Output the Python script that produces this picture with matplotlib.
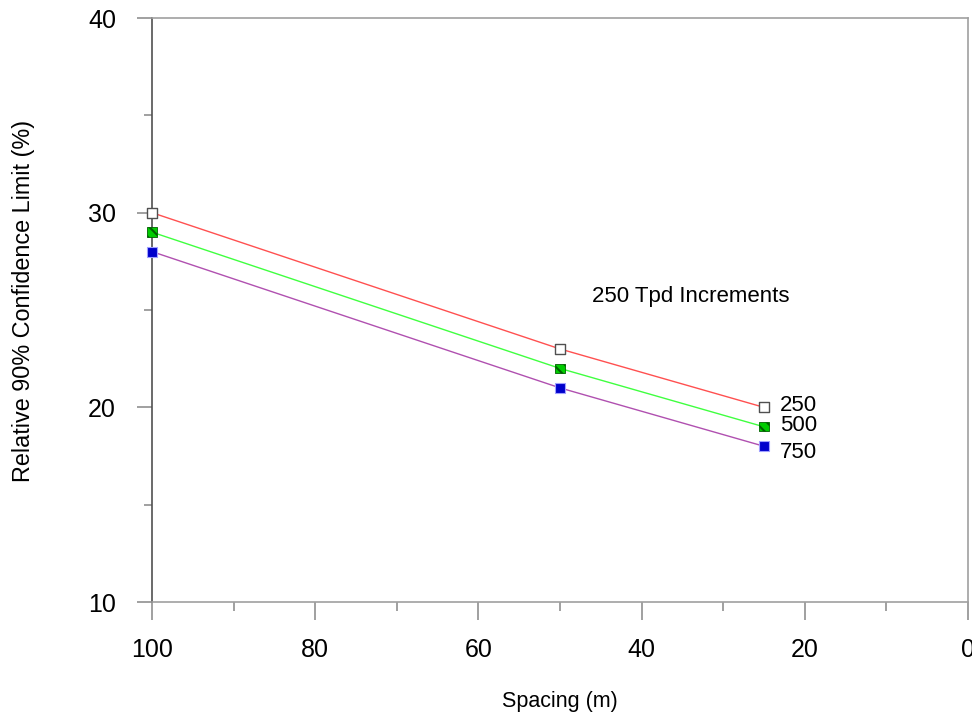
import matplotlib
matplotlib.use("Agg")
import matplotlib.pyplot as plt
from matplotlib.ticker import MultipleLocator

plt.rcParams['font.family'] = ['Liberation Sans', 'DejaVu Sans']
plt.rcParams['hatch.color'] = '#006000'
plt.rcParams['hatch.linewidth'] = 1.5

spacing = [100, 50, 25]
series_names = ["250", "500", "750"]
values_250 = [30, 23, 20]
values_500 = [29, 22, 19]
values_750 = [28, 21, 18]
annotation = "250 Tpd Increments"

fig = plt.figure(figsize=(9.72, 7.15), dpi=100)
ax = fig.add_axes([0.1564, 0.158, 0.8395, 0.8168])

ax.plot(spacing, values_250, color='#ff5050', lw=1.0, zorder=2)
ax.plot(spacing, values_500, color='#40ff40', lw=1.0, zorder=2)
ax.plot(spacing, values_750, color='#b050b0', lw=1.0, zorder=2)

ax.scatter(spacing, values_250, marker='s', s=45, facecolor='white', edgecolor='#505050', linewidths=1.0, zorder=3, clip_on=False)
ax.scatter(spacing, values_500, marker='s', s=45, facecolor='#00cc00', edgecolor='#006000', hatch='\\\\\\', linewidths=0.6, zorder=3, clip_on=False)
ax.scatter(spacing, values_750, marker='s', s=45, facecolor='#0000cc', edgecolor='#a0a0ff', linewidths=0.8, zorder=3, clip_on=False)

ax.set_xlim(100, 0)
ax.set_ylim(10, 40)
ax.xaxis.set_major_locator(MultipleLocator(20))
ax.xaxis.set_minor_locator(MultipleLocator(10))
ax.yaxis.set_major_locator(MultipleLocator(10))
ax.yaxis.set_minor_locator(MultipleLocator(5))

for s in ['top', 'right', 'bottom']:
    ax.spines[s].set_color('#a0a0a0')
    ax.spines[s].set_linewidth(1.2)
ax.spines['left'].set_color('#505050')
ax.spines['left'].set_linewidth(1.2)

ax.tick_params(axis='x', which='major', direction='out', length=13, width=1.2, color='#909090', labelsize=18, pad=13)
ax.tick_params(axis='x', which='minor', direction='out', length=6.5, width=1.2, color='#909090')
ax.tick_params(axis='y', which='major', direction='out', length=11, width=1.2, color='#909090', labelsize=18, pad=15)
ax.tick_params(axis='y', which='minor', direction='out', length=5.5, width=1.2, color='#909090')

ax.set_xlabel("Spacing (m)", fontsize=15.5, labelpad=21)
ax.set_ylabel("Relative 90% Confidence Limit (%)", fontsize=16.8)
ax.yaxis.set_label_coords(-0.144, 0.515)

ax.text(46.1, 25.7, annotation, fontsize=16, va='center', ha='left')
ax.text(23.0, 20.1, series_names[0], fontsize=16, va='center', ha='left')
ax.text(23.0, 19.05, series_names[1], fontsize=16, va='center', ha='left')
ax.text(23.0, 17.7, series_names[2], fontsize=16, va='center', ha='left')

fig.savefig("out.png", dpi=100)
